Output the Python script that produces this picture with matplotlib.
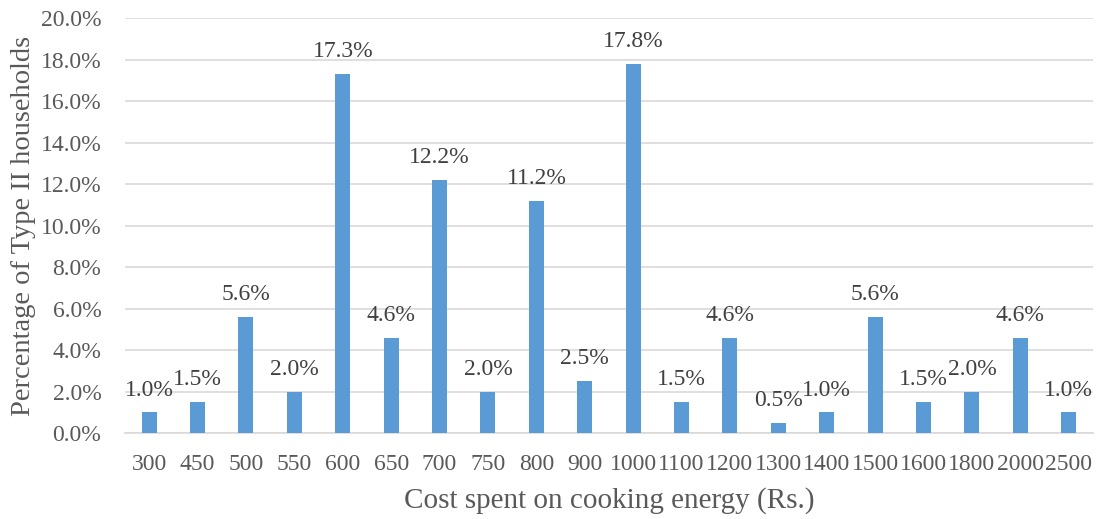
import matplotlib.pyplot as plt
import numpy as np

costs = ['300', '450', '500', '550', '600', '650', '700', '750', '800', '900',
         '1000', '1100', '1200', '1300', '1400', '1500', '1600', '1800', '2000', '2500']
shares = [1.0, 1.5, 5.6, 2.0, 17.3, 4.6, 12.2, 2.0, 11.2, 2.5,
          17.8, 1.5, 4.6, 0.5, 1.0, 5.6, 1.5, 2.0, 4.6, 1.0]

plt.rcParams['font.family'] = ['Liberation Serif', 'DejaVu Serif']

fig = plt.figure(figsize=(11.01, 5.19), dpi=100)
ax = fig.add_axes([0.1135, 0.1657, 0.8792, 0.7996])

x = np.arange(len(costs))
bars = ax.bar(x, shares, width=0.31, color='#5B9BD5', zorder=3)

# value labels sit a little above each bar
for xi, v in zip(x, shares):
    ax.annotate(f'{v:.1f}%', (xi, v), xytext=(0, 12), textcoords='offset points',
                ha='center', va='baseline', fontsize=17, color='#404040', zorder=4)

ax.set_xlim(-0.5, len(costs) - 0.5)
ax.set_ylim(0, 20)
ax.set_yticks(np.arange(0, 20.1, 2))
ax.set_yticklabels([f'{t:.1f}%' for t in np.arange(0, 20.1, 2)])
ax.set_xticks(x)
ax.set_xticklabels(costs)
ax.tick_params(length=0, labelsize=17, colors='#595959', pad=17)
ax.tick_params(axis='x', pad=15)

ax.grid(axis='y', color='#D9D9D9', linewidth=1.2, zorder=0)
for s in ['top', 'right', 'left']:
    ax.spines[s].set_visible(False)
ax.spines['bottom'].set_color('#D9D9D9')
ax.spines['bottom'].set_linewidth(1.2)

ax.set_xlabel('Cost spent on cooking energy (Rs.)', fontsize=21, color='#595959', labelpad=9)
ax.set_ylabel('Percentage of Type II households', fontsize=20.5, color='#595959', labelpad=3)

fig.savefig('out.png', dpi=100)
